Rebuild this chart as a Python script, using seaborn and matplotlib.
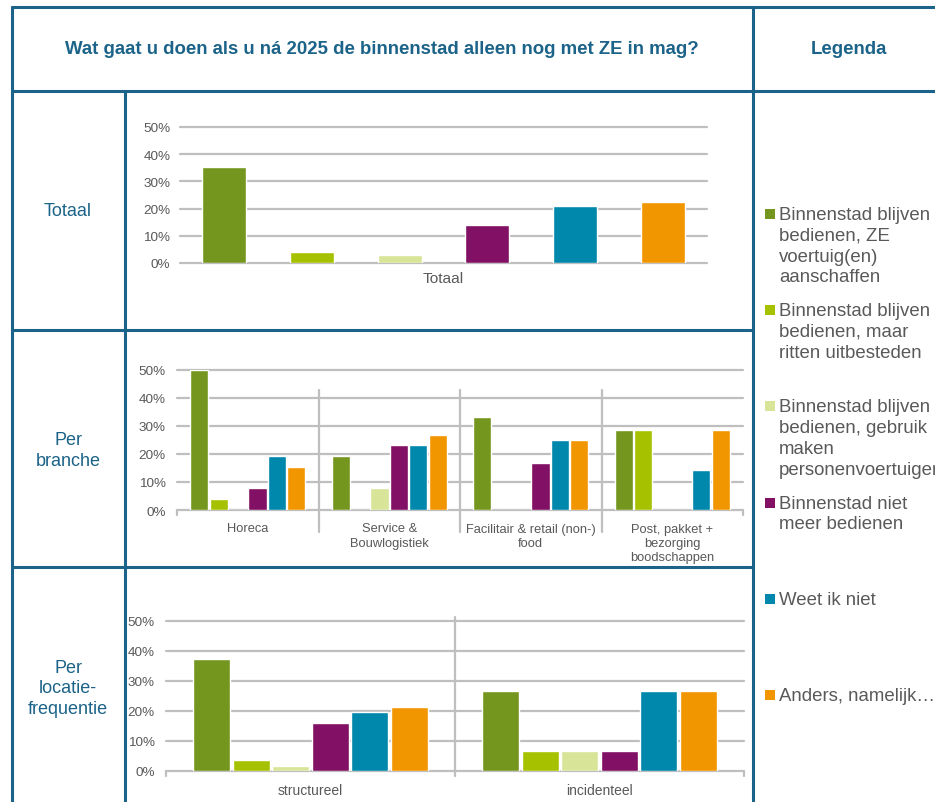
import matplotlib
matplotlib.use("Agg")
import matplotlib.pyplot as plt
import seaborn as sns
import pandas as pd
from matplotlib.lines import Line2D
from matplotlib.patches import Rectangle

# ---------------- data ----------------
series = [
    "Binnenstad blijven\nbedienen, ZE\nvoertuig(en)\naanschaffen",
    "Binnenstad blijven\nbedienen, maar\nritten uitbesteden",
    "Binnenstad blijven\nbedienen, gebruik\nmaken\npersonenvoertuigen",
    "Binnenstad niet\nmeer bedienen",
    "Weet ik niet",
    "Anders, namelijk…",
]
colors = ["#74961E", "#A6C100", "#D8E498", "#821064", "#0087AC", "#F29600"]

totaal_cats = ["Totaal"]
totaal_values = [35.2, 4.2, 2.8, 14.1, 21.1, 22.5]

branche_cats = ["Horeca", "Service &\nBouwlogistiek",
                "Facilitair & retail (non-)\nfood",
                "Post, pakket +\nbezorging\nboodschappen"]
horeca = [50.0, 3.8, 0.0, 7.7, 19.2, 15.4]
service = [19.2, 0.0, 7.7, 23.1, 23.1, 26.9]
facilitair = [33.3, 0.0, 0.0, 16.7, 25.0, 25.0]
post = [28.6, 28.6, 0.0, 0.0, 14.3, 28.6]

freq_cats = ["structureel", "incidenteel"]
structureel = [37.5, 3.6, 1.8, 16.1, 19.6, 21.4]
incidenteel = [26.7, 6.7, 6.7, 6.7, 26.7, 26.7]

title = "Wat gaat u doen als u ná 2025 de binnenstad alleen nog met ZE in mag?"
row_labels = ["Totaal", "Per\nbranche", "Per\nlocatie-\nfrequentie"]
yticks = [0, 10, 20, 30, 40, 50]

# ---------------- style ----------------
sns.set_theme(style="white")
plt.rcParams["font.family"] = ["Liberation Sans", "DejaVu Sans"]

BORDER = "#1B6388"
GRID = "#BFBFBF"
GRAY = "#595959"
W, H = 935, 803

fig = plt.figure(figsize=(W / 100, H / 100), dpi=100)
fig.patch.set_facecolor("white")


def fx(x):
    return x / W


def fy(y):
    return 1 - y / H


def rect(x0, y0, x1, y1):
    return [x0 / W, 1 - y1 / H, (x1 - x0) / W, (y1 - y0) / H]


def hline(y, x0, x1):
    fig.add_artist(Line2D([fx(x0), fx(x1)], [fy(y), fy(y)], transform=fig.transFigure,
                          color=BORDER, lw=2.2, solid_capstyle="butt"))


def vline(x, y0, y1):
    fig.add_artist(Line2D([fx(x), fx(x)], [fy(y0), fy(y1)], transform=fig.transFigure,
                          color=BORDER, lw=2.2, solid_capstyle="butt"))


# table borders
hline(8, 11, 935)
hline(92, 11, 935)
hline(331, 11, 754)
hline(568, 11, 754)
vline(12, 7, 803)
vline(125, 92, 803)
vline(753, 7, 803)

# header texts
fig.text(fx(382), fy(50), title, ha="center", va="center", fontsize=13.4,
         fontweight="bold", color=BORDER)
fig.text(fx(849), fy(50), "Legenda", ha="center", va="center", fontsize=13.4,
         fontweight="bold", color=BORDER)

# row labels
for lab, yc in zip(row_labels, [212, 451, 689]):
    fig.text(fx(68), fy(yc), lab, ha="center", va="center", fontsize=13,
             color=BORDER, linespacing=1.27)


def draw(rect_px, cats, values, width, gap, xlabelsize, xpad, ypad):
    rows = []
    for c, vals in zip(cats, values):
        for s, v in zip(series, vals):
            rows.append((c, s, v))
    df = pd.DataFrame(rows, columns=["cat", "serie", "val"])
    ax = fig.add_axes(rect(*rect_px))
    sns.barplot(data=df, x="cat", y="val", hue="serie", order=cats, hue_order=series,
                palette=colors, width=width, gap=gap, saturation=1, errorbar=None,
                legend=False, ax=ax, zorder=3)
    ax.set_ylim(0, 50)
    ax.set_xlim(-0.5, len(cats) - 0.5)
    ax.set_yticks(yticks)
    ax.set_yticklabels([f"{t}%" for t in yticks])
    ax.grid(axis="y", color=GRID, lw=1.6)
    ax.grid(axis="x", visible=False)
    for gl in ax.yaxis.get_gridlines():
        gl.set_clip_on(False)
    ax.set_axisbelow(True)
    for sp in ax.spines.values():
        sp.set_visible(False)
    ax.set_xlabel("")
    ax.set_ylabel("")
    ax.set_facecolor("none")
    ax.tick_params(axis="y", length=0, pad=ypad, labelsize=9.7, labelcolor=GRAY)
    ax.tick_params(axis="x", length=0, pad=xpad, labelsize=xlabelsize, labelcolor=GRAY)
    for t in ax.get_xticklabels():
        t.set_linespacing(1.25)
    return ax


# chart 1: Totaal
ax1 = draw((180, 128, 707, 264), totaal_cats, [totaal_values], 1.0, 0.5, 11.1, 5.5, 7)

# chart 2: per branche
ax2 = draw((177, 371, 743, 511), branche_cats, [horeca, service, facilitair, post],
           0.82, 0.06, 9.3, 9, 8)
for b in range(1, len(branche_cats)):
    ax2.axvline(b - 0.5, ymin=-0.16, ymax=0.86, color=GRID, lw=1.6, clip_on=False)
for b in [-0.5, len(branche_cats) - 0.5]:
    ax2.axvline(b, ymin=-0.035, ymax=0, color=GRID, lw=1.6, clip_on=False)

# chart 3: per locatiefrequentie
ax3 = draw((166, 622, 744, 772), freq_cats, [structureel, incidenteel],
           0.82, 0.06, 10, 9, 8)
for b in range(1, len(freq_cats)):
    ax3.axvline(b - 0.5, ymin=-0.03, ymax=1.03, color=GRID, lw=1.6, clip_on=False)
for b in [-0.5, len(freq_cats) - 0.5]:
    ax3.axvline(b, ymin=-0.03, ymax=0, color=GRID, lw=1.6, clip_on=False)

# legend
for i, (lab, col) in enumerate(zip(series, colors)):
    yc = 215 + 96.2 * i
    fig.add_artist(Rectangle((fx(765), fy(yc + 5)), 10 / W, 10 / H,
                             transform=fig.transFigure, facecolor=col, edgecolor="none"))
    fig.text(fx(779), fy(yc - 8), lab, ha="left", va="top", fontsize=13.4,
             color=GRAY, linespacing=1.29)

fig.savefig("out.png", dpi=100, facecolor="white")
